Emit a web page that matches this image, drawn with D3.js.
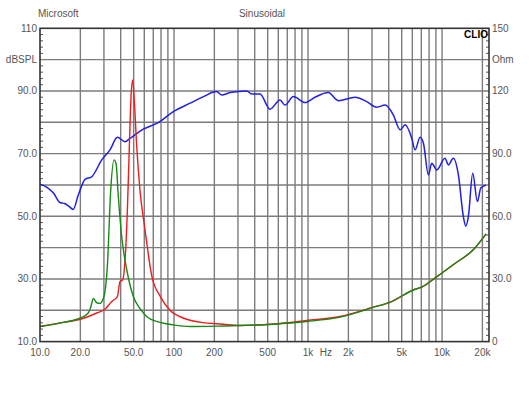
<!DOCTYPE html>
<html><head><meta charset="utf-8">
<script src="https://cdn.jsdelivr.net/npm/d3@7/dist/d3.min.js"></script>
<style>body{margin:0;background:#fff}svg{display:block}text{font-family:Arial,"Liberation Sans",sans-serif}</style>
</head><body><svg id="c" width="530" height="398"></svg>
<script>
// SPL (dB) vs frequency
const splFreq = [10,11.2,12.6,14.1,15.4,16.3,17.7,19.3,21.7,24.3,28.9,33.3,37.8,43.1,47,59,76.3,98.8,132,166,208,227,262,349,380,438,520,618,673,777,950,1127,1416,1683,2243,2742,3258,3758,4335,4864,5299,5943,6292,6855,7261,7907,8378,9128,10520,11140,12140,13240,14420,15030,15710,16940,18340,19450,21290];
const splDb = [60.2,59.3,57.4,54.4,54.0,53.3,52.2,56.8,61.8,62.6,68.0,71.2,75.2,73.8,74.9,77.8,79.9,83.4,86.1,88.2,89.8,88.7,89.5,90.0,89.0,89.0,84.2,87.1,85.5,88.2,86.3,88.0,89.5,86.9,88.0,86.6,84.8,85.5,82.3,77.6,79.2,74.9,71.2,75.2,73.3,63.2,66.9,64.8,68.5,66.4,68.5,63.2,49.9,46.9,49.9,63.7,54.7,59.0,60.0];
// Impedance (Ohm), red curve
const redFreq = [10,14.9,20,26.5,30.5,34.3,37.8,39.5,41.4,43.1,44.8,46.4,47.8,49.2,50.5,52.7,55.7,60.8,68.2,78.7,93.3,117,156,233,311,551,977,1733,3070,4093,6109,7063,9128,12140,17130,21290];
const redOhm = [7.2,9.2,10.7,13.7,15.5,19.2,21.6,28.7,29.6,39.2,61.5,93.3,117.3,125.3,115.7,93.3,72.6,53.4,31.5,21.8,15.0,11.3,9.3,8.3,7.7,8.4,10.1,12.0,16.5,18.8,24.8,26.1,31.1,36.8,44.0,51.5];
// Impedance (Ohm), green curve
const greenFreq = [10,14.9,20,22.9,24.0,25.0,26.5,28.0,30.0,31.8,33.7,35.7,36.9,38.4,40.7,44.4,49.7,55.7,62.5,78.7,98.8,132,233,551,977,1733,3070,4093,6109,7063,9128,12140,17130,21290];
const greenOhm = [7.2,9.2,11.3,13.7,16.8,20.7,18.6,18.3,21.6,35.9,72.6,87.0,85.4,69.5,50.3,34.4,21.6,15.9,12.0,9.2,8.0,7.2,7.5,8.3,9.6,11.7,16.4,18.9,24.7,26.2,31.0,36.9,44.1,51.6];
// Ticks
const xGrid = [20,30,40,50,60,70,80,90,100,200,300,400,500,600,700,800,900,1000,2000,3000,4000,5000,6000,7000,8000,9000,10000,20000];
const xLabVals = [10,20,50,100,200,500,1000,2000,5000,10000,20000];
const xLabText = ["10.0","20.0","50.0","100","200","500","1k","2k","5k","10k","20k"];
const yLeftVals = [110,90,70,50,30,10];
const yLeftText = ["110","90.0","70.0","50.0","30.0","10.0"];
const yRightVals = [150,120,90,60,30,0];
const yRightText = ["150","120","90.0","60.0","30.0","0"];

const svg = d3.select("#c");
const L=40, R=489, T=28.3, B=341.6;
const x = d3.scaleLog().domain([10,22400]).range([L,R]);
const yL = d3.scaleLinear().domain([10,110]).range([B,T]);
const yR = d3.scaleLinear().domain([0,150]).range([B,T]);
const txt = "#555";
const gridC = "#7c7c7c";

// horizontal grid
svg.append("g").selectAll("line").data(d3.range(20,110,10)).join("line")
  .attr("x1",L).attr("x2",R).attr("y1",d=>yL(d)).attr("y2",d=>yL(d))
  .attr("stroke",gridC).attr("stroke-width",1.4);
// vertical grid
svg.append("g").selectAll("line").data(xGrid).join("line")
  .attr("x1",d=>x(d)).attr("x2",d=>x(d)).attr("y1",T).attr("y2",B)
  .attr("stroke",gridC).attr("stroke-width",1.4);
// minor ticks
svg.append("g").selectAll("line").data(d3.range(12,110,2).filter(d=>d%10)).join("line")
  .attr("x1",L).attr("x2",L+3).attr("y1",d=>yL(d)).attr("y2",d=>yL(d))
  .attr("stroke","#555").attr("stroke-width",1);
svg.append("g").selectAll("line").data(d3.range(12,110,2).filter(d=>d%10)).join("line")
  .attr("x1",R-3).attr("x2",R).attr("y1",d=>yL(d)).attr("y2",d=>yL(d))
  .attr("stroke","#555").attr("stroke-width",1);

// curves
const line = (fy) => d3.line().x(d=>x(d[0])).y(d=>fy(d[1])).curve(d3.curveMonotoneX);
svg.append("path").datum(d3.zip(splFreq,splDb)).attr("d",line(yL))
  .attr("fill","none").attr("stroke","#1f1fe6").attr("stroke-width",1.5);
svg.append("path").datum(d3.zip(redFreq,redOhm)).attr("d",line(yR))
  .attr("fill","none").attr("stroke","#ee1c1c").attr("stroke-width",1.4);
svg.append("path").datum(d3.zip(greenFreq,greenOhm)).attr("d",line(yR))
  .attr("fill","none").attr("stroke","#158a15").attr("stroke-width",1.4);

// frame
svg.append("rect").attr("x",L).attr("y",T).attr("width",R-L).attr("height",B-T)
  .attr("fill","none").attr("stroke","#333").attr("stroke-width",1.6);

// labels
const fs = 10;
svg.append("g").selectAll("text").data(yLeftVals).join("text")
  .attr("x",L-3).attr("y",d=>yL(d)+3.5).attr("text-anchor","end")
  .attr("font-size",fs).attr("fill",txt).text((d,i)=>yLeftText[i]);
svg.append("text").attr("x",L-3).attr("y",yL(100)+3.5).attr("text-anchor","end")
  .attr("font-size",fs).attr("fill",txt).text("dBSPL");
svg.append("g").selectAll("text").data(yRightVals).join("text")
  .attr("x",R+3).attr("y",d=>yR(d)+3.5).attr("text-anchor","start")
  .attr("font-size",fs).attr("fill",txt).text((d,i)=>yRightText[i]);
svg.append("text").attr("x",R+3).attr("y",yR(135)+3.5).attr("text-anchor","start")
  .attr("font-size",fs).attr("fill",txt).text("Ohm");
svg.append("g").selectAll("text").data(xLabVals).join("text")
  .attr("x",d=>x(d)).attr("y",B+14).attr("text-anchor","middle")
  .attr("font-size",fs).attr("fill",txt).text((d,i)=>xLabText[i]);
svg.append("text").attr("x",x(1360)).attr("y",B+14).attr("text-anchor","middle")
  .attr("font-size",fs).attr("fill",txt).text("Hz");
svg.append("text").attr("x",38).attr("y",17).attr("font-size",fs).attr("fill",txt).text("Microsoft");
svg.append("text").attr("x",262).attr("y",17).attr("text-anchor","middle").attr("font-size",fs).attr("fill",txt).text("Sinusoidal");
svg.append("text").attr("x",R-1).attr("y",T+9.5).attr("text-anchor","end")
  .attr("font-family","'Liberation Serif','DejaVu Serif',serif").attr("font-weight","bold")
  .attr("font-size",10).attr("fill","#000").text("CLIO");
</script></body></html>
